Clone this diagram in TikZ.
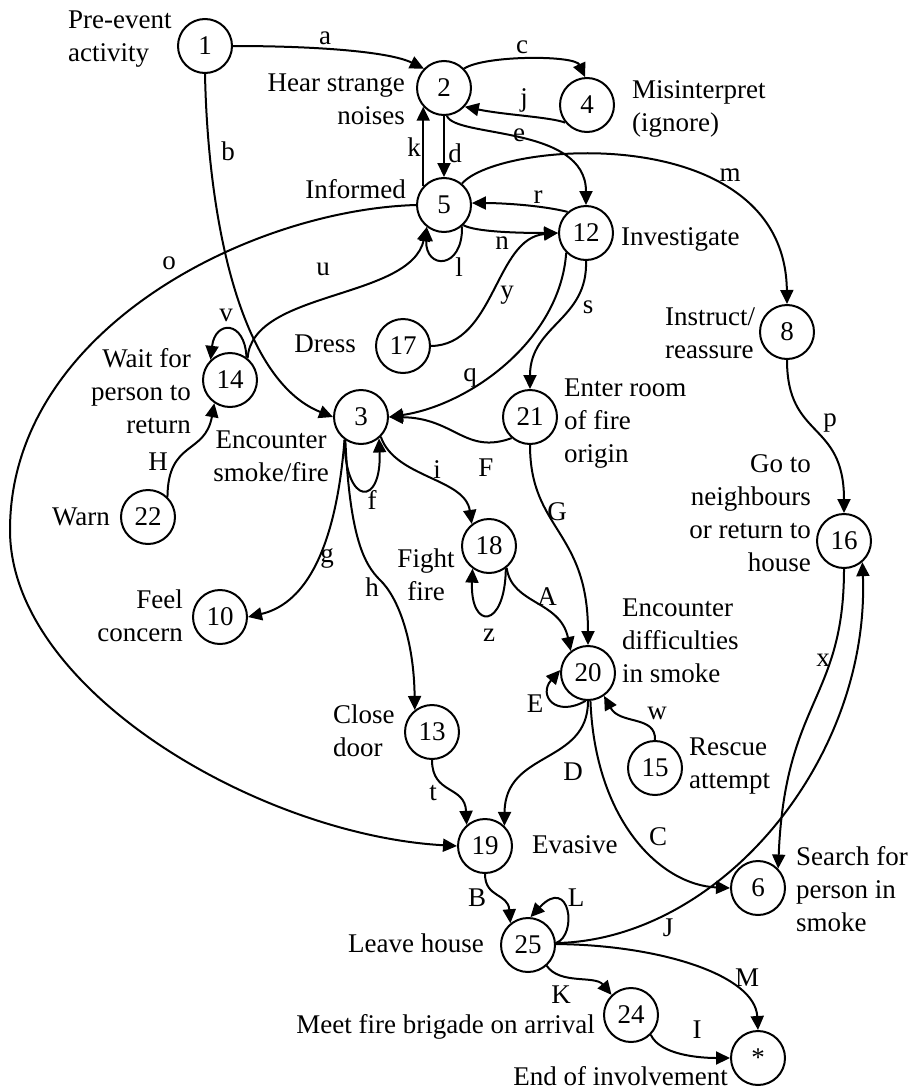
\documentclass[tikz,border=0pt]{standalone}
\usepackage{fontspec}
\setmainfont{Liberation Serif}
\usetikzlibrary{arrows.meta}

\begin{document}
\begin{tikzpicture}[x=1pt,y=-1pt,
  every node/.style={font=\fontsize{27}{33}\selectfont, inner sep=0pt},
  state/.style={circle, draw, line width=2pt, minimum size=54pt},
  edge/.style={line width=2pt, -{Triangle[length=14pt,width=13pt]}}]
\useasboundingbox (0,0) rectangle (913,1092);

% states
\node[state] (n1)  at (205,46)  {1};
\node[state] (n2)  at (444,88)  {2};
\node[state] (n4)  at (587,105) {4};
\node[state] (n5)  at (444,205) {5};
\node[state] (n12) at (586,233) {12};
\node[state] (n8)  at (787,332) {8};
\node[state] (n17) at (403,346) {17};
\node[state] (n14) at (230,380) {14};
\node[state] (n3)  at (361,417) {3};
\node[state] (n21) at (530,417) {21};
\node[state] (n22) at (148,517) {22};
\node[state] (n16) at (844,541) {16};
\node[state] (n18) at (489,546) {18};
\node[state] (n10) at (220,617) {10};
\node[state] (n20) at (588,673) {20};
\node[state] (n13) at (432,732) {13};
\node[state] (n15) at (655,768) {15};
\node[state] (n19) at (485,846) {19};
\node[state] (n6)  at (758,888) {6};
\node[state] (n25) at (528,945) {25};
\node[state] (n24) at (631,1015) {24};
\node[state] (nE)  at (758,1058) {*};

% state descriptions (base = baseline of the last line)
\node[anchor=base west, align=left]  (t1)  at (68,61)   {Pre-event\\activity};
\node[anchor=base east, align=right] (t2)  at (405,124) {Hear strange\\noises};
\node[anchor=base west, align=left]  (t4)  at (632,131) {Misinterpret\\(ignore)};
\node[anchor=base east]              (t5)  at (406,198) {Informed};
\node[anchor=base west]              (t12) at (621,245) {Investigate};
\node[anchor=base east]              (t17) at (356,352) {Dress};
\node[anchor=base west, align=left]  (t8)  at (665,358) {Instruct/\\reassure};
\node[anchor=base east, align=right] (t14) at (191,433) {Wait for\\person to\\return};
\node[anchor=base west, align=left]  (t21) at (564,462) {Enter room\\of fire\\origin};
\node[anchor=base, align=center]     (t3)  at (271,481) {Encounter\\smoke/fire};
\node[anchor=base east]              (t22) at (110,525) {Warn};
\node[anchor=base east, align=right] (t16) at (811,571) {Go to\\neighbours\\or return to\\house};
\node[anchor=base east, align=right] (t10) at (183,641) {Feel\\concern};
\node[anchor=base, align=center]     (t18) at (426,600) {Fight\\fire};
\node[anchor=base west, align=left]  (t20) at (622,682) {Encounter\\difficulties\\in smoke};
\node[anchor=base west, align=left]  (t13) at (333,756) {Close\\door};
\node[anchor=base west, align=left]  (t15) at (689,788) {Rescue\\attempt};
\node[anchor=base west]              (t19) at (532,853) {Evasive};
\node[anchor=base west, align=left]  (t6)  at (796,931) {Search for\\person in\\smoke};
\node[anchor=base east]              (t25) at (484,952) {Leave house};
\node[anchor=base east]              (t24) at (595,1033) {Meet fire brigade on arrival};
\node[anchor=base east]              (tE)  at (728,1085) {End of involvement};

% transitions
\draw[edge] (n1.0) .. controls (320,46) and (390,52) .. (n2.136);
\draw[edge] (n1.270) .. controls (208,220) and (240,380) .. (n3.180);
\draw[edge] (n2.44) .. controls (485,55) and (575,55) .. (n4.94);
\draw[edge] (n4.219) .. controls (550,117) and (505,115) .. (n2.-42);
\draw[edge] (n2.-84) .. controls (455,138) and (586,125) .. (n12.90);
\draw[edge] (n5.138) -- (n2.222);
\draw[edge] (n2.270) -- (n5.90);
\draw[edge] (n5.50) .. controls (500,140) and (785,120) .. (n8.90);
\draw[edge] (n12.131) .. controls (540,205) and (500,203) .. (n5.4);
\draw[edge] (n5.-46) .. controls (475,232) and (520,233) .. (n12.180);
\draw[edge] (n5.-50) .. controls (463,270) and (425,270) .. (n5.232);
\draw[edge] (n5.180) .. controls (250,210) and (10,330) .. (10,530)
            .. controls (10,690) and (260,835) .. (n19.180);
\draw[edge] (n14.51) .. controls (252,290) and (410,300) .. (n5.232);
\draw[edge] (n14.54) .. controls (245,320) and (215,320) .. (n14.134);
\draw[edge] (n22.46) .. controls (168,440) and (205,455) .. (n14.236);
\draw[edge] (n17.0) .. controls (495,345) and (495,238) .. (n12.180);
\draw[edge] (n12.225) .. controls (560,340) and (470,405) .. (n3.0);
\draw[edge] (n12.270) .. controls (588,320) and (530,325) .. (n21.90);
\draw[edge] (n21.229) .. controls (465,455) and (455,418) .. (n3.0);
\draw[edge] (n21.270) .. controls (530,530) and (588,530) .. (n20.90);
\draw[edge] (n8.270) .. controls (787,440) and (844,420) .. (n16.90);
\draw[edge] (n16.270) .. controls (844,700) and (785,700) .. (n6.44);
\draw[edge] (n25.4) .. controls (720,940) and (870,760) .. (n16.-49);
\draw[edge] (n3.234) .. controls (345,507) and (382,507) .. (n3.-50);
\draw[edge] (n3.-45) .. controls (395,478) and (465,478) .. (n18.128);
\draw[edge] (n3.234) .. controls (335,560) and (300,605) .. (n10.0);
\draw[edge] (n3.236) .. controls (350,540) and (365,565) .. (380,580)
            .. controls (398,597) and (414,640) .. (n13.128);
\draw[edge] (n18.-53) .. controls (505,630) and (470,630) .. (n18.234);
\draw[edge] (n18.-51) .. controls (512,605) and (560,600) .. (n20.128);
\draw[edge] (n20.265) .. controls (555,718) and (538,695) .. (n20.174);
\draw[edge] (n15.90) .. controls (656,715) and (620,725) .. (n20.-55);
\draw[edge] (n20.270) .. controls (588,765) and (505,750) .. (n19.46);
\draw[edge] (n20.-85) .. controls (595,820) and (660,885) .. (n6.180);
\draw[edge] (n13.270) .. controls (432,795) and (465,785) .. (n19.131);
\draw[edge] (n19.270) .. controls (485,898) and (508,893) .. (n25.129);
\draw[edge] (n25.4) .. controls (578,935) and (570,875) .. (n25.85);
\draw[edge] (n25.-48) .. controls (560,985) and (595,975) .. (n24.134);
\draw[edge] (n25.2) .. controls (660,945) and (755,975) .. (nE.90);
\draw[edge] (n24.-45) .. controls (660,1055) and (700,1058) .. (nE.180);

% transition letters
\node (la) at (325,38)  {a};
\node (lb) at (228,151) {b};
\node (lc) at (522,47)  {c};
\node (lj) at (524,100) {j};
\node (le) at (519,135) {e};
\node (lk) at (414,147) {k};
\node (ld) at (455,153) {d};
\node (lm) at (730,175) {m};
\node (lr) at (538,197) {r};
\node (ln) at (502,243) {n};
\node (ll) at (459,267) {l};
\node (lo) at (169,263) {o};
\node (lu) at (323,269) {u};
\node (lv) at (226,315) {v};
\node (lH) at (158,462) {H};
\node (ly) at (507,295) {y};
\node (ls) at (588,307) {s};
\node (lq) at (470,378) {q};
\node (lF) at (486,468) {F};
\node (lG) at (557,512) {G};
\node (lp) at (830,423) {p};
\node (lf) at (372,500) {f};
\node (li) at (437,470) {i};
\node (lg) at (327,558) {g};
\node (lh) at (372,587) {h};
\node (lz) at (489,635) {z};
\node (lA) at (547,597) {A};
\node (lx) at (823,660) {x};
\node (lE) at (535,704) {E};
\node (lw) at (657,713) {w};
\node (lD) at (573,772) {D};
\node (lt) at (433,793) {t};
\node (lC) at (658,837) {C};
\node (lB) at (477,898) {B};
\node (lL) at (576,898) {L};
\node (lJ) at (668,928) {J};
\node (lK) at (561,995) {K};
\node (lM) at (747,978) {M};
\node (lI) at (697,1030) {I};
\end{tikzpicture}
\end{document}
